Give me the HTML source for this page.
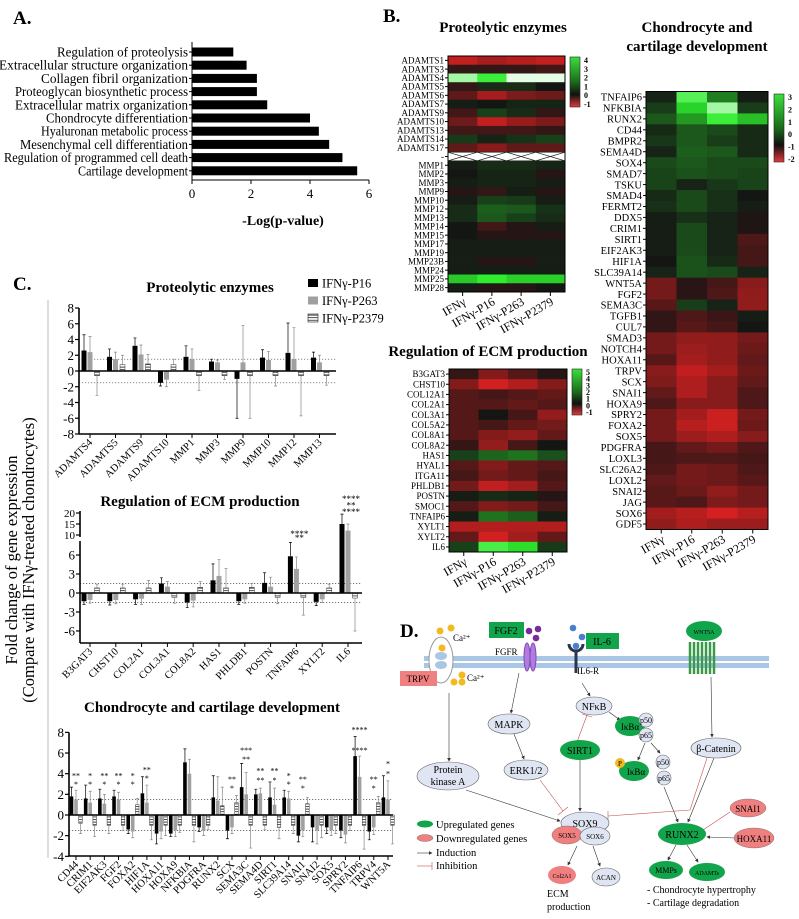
<!DOCTYPE html>
<html><head><meta charset="utf-8">
<style>
html,body{margin:0;padding:0;background:#fff;}
svg{display:block;font-family:"Liberation Serif",serif;}
</style></head>
<body>
<svg id="fig" xmlns="http://www.w3.org/2000/svg" width="799" height="919" viewBox="0 0 799 919">
<defs>
<pattern id="stripe" patternUnits="userSpaceOnUse" width="4" height="2.6"><rect width="4" height="2.6" fill="#fff"/><line x1="0" y1="0.5" x2="4" y2="0.5" stroke="#222" stroke-width="0.8"/></pattern>
<linearGradient id="cbar" x1="0" y1="0" x2="0" y2="1"><stop offset="0" stop-color="#3be03b"/><stop offset="0.5" stop-color="#1b6b1b"/><stop offset="0.75" stop-color="#111"/><stop offset="1" stop-color="#e63a3a"/></linearGradient>
<marker id="arr" markerWidth="6" markerHeight="6" refX="5" refY="3" orient="auto"><path d="M0,0 L6,3 L0,6z" fill="#333"/></marker>
</defs>
<g id="panelA"></g>
<g id="panelB"></g>
<g id="panelC"></g>
<g id="panelD" font-size="11" font-family="Liberation Serif, serif">
  <text x="400" y="637" font-size="19" font-weight="bold">D.</text>
  <rect x="424" y="656" width="345" height="5" fill="#a9c7e4"/>
  <rect x="424" y="663" width="345" height="5" fill="#a9c7e4"/>
  <ellipse cx="441" cy="660" rx="12" ry="23" fill="#fff" stroke="#999"/>
  <ellipse cx="441" cy="656" rx="6" ry="4" fill="#a9c7e4"/>
  <ellipse cx="441" cy="665" rx="6" ry="4" fill="#a9c7e4"/>
  <circle cx="440" cy="631" r="3.5" fill="#f2b920"/>
  <circle cx="451" cy="628" r="3.5" fill="#f2b920"/>
  <circle cx="442" cy="648" r="3.5" fill="#f2b920"/>
  <circle cx="462" cy="675" r="3.5" fill="#f2b920"/>
  <circle cx="454" cy="682" r="3.5" fill="#f2b920"/>
  <circle cx="462" cy="682" r="3.5" fill="#f2b920"/>
  <text x="453" y="641" font-size="9">Ca²⁺</text>
  <text x="467" y="681" font-size="9">Ca²⁺</text>
  <rect x="400" y="671" width="37" height="15" fill="#f08080"/>
  <text x="418" y="682" text-anchor="middle" font-size="9">TRPV</text>
  <rect x="489" y="622" width="35" height="16" fill="#12a44a"/>
  <text x="506" y="634" text-anchor="middle" font-size="10">FGF2</text>
  <circle cx="529" cy="631" r="3.3" fill="#7b2a9b"/><circle cx="538" cy="629" r="3.3" fill="#7b2a9b"/><circle cx="536" cy="638" r="3.3" fill="#7b2a9b"/>
  <ellipse cx="527" cy="657" rx="3" ry="14" fill="#b27be0" stroke="#7d4ab5"/>
  <ellipse cx="533" cy="657" rx="3" ry="14" fill="#b27be0" stroke="#7d4ab5"/>
  <text x="495" y="655" font-size="9">FGFR</text>
  <circle cx="573" cy="628" r="3.3" fill="#4a7fd0"/><circle cx="582" cy="637" r="3.3" fill="#4a7fd0"/><circle cx="576" cy="646" r="3.3" fill="#4a7fd0"/>
  <path d="M569,644 A7,7 0 0 0 583,644" fill="none" stroke="#2b3550" stroke-width="3"/>
  <rect x="574.5" y="650" width="3" height="23" fill="#2b3550"/>
  <rect x="586" y="633" width="33" height="16" fill="#12a44a"/>
  <text x="602" y="645" text-anchor="middle" font-size="10">IL-6</text>
  <text x="577" y="674" font-size="9">IL6-R</text>
  <ellipse cx="704" cy="631" rx="18" ry="10" fill="#12a44a"/>
  <text x="704" y="634" text-anchor="middle" font-size="6">WNT5A</text>
  <path d="M690,642 v32 M694,642 v32 M698,642 v32 M702,642 v32 M706,642 v32 M710,642 v32 M714,642 v32" stroke="#3a9a4a" stroke-width="2.5" fill="none"/>
  <g stroke="#333" stroke-width="0.6" fill="none" marker-end="url(#arr)">
    <line x1="449" y1="693" x2="449" y2="761"/>
    <line x1="519" y1="673" x2="511" y2="713"/>
    <line x1="514" y1="734" x2="524" y2="759"/>
    <line x1="582" y1="683" x2="590" y2="696"/>
    <line x1="609" y1="712" x2="620" y2="720"/>
    <line x1="645" y1="743" x2="638" y2="760"/>
    <line x1="651" y1="743" x2="660" y2="753"/>
    <line x1="664" y1="787" x2="678" y2="822"/>
    <line x1="711" y1="677" x2="712" y2="737"/>
    <line x1="714" y1="758" x2="688" y2="822"/>
    <line x1="466" y1="790" x2="560" y2="821"/>
    <line x1="580" y1="760" x2="580" y2="811"/>
    <line x1="577" y1="846" x2="568" y2="865"/>
    <line x1="593" y1="846" x2="600" y2="866"/>
    <line x1="676" y1="845" x2="668" y2="860"/>
    <line x1="687" y1="845" x2="698" y2="862"/>
    <line x1="735" y1="838" x2="707" y2="837"/>
  </g>
  <g stroke="#c65050" stroke-width="0.6" fill="none">
    <line x1="540" y1="780" x2="563" y2="811"/><line x1="558" y1="815" x2="568" y2="807"/>
    <line x1="577" y1="742" x2="587" y2="715"/><line x1="582" y1="714" x2="592" y2="717"/>
    <path d="M707,758 L690,810 L608,816"/><line x1="608" y1="811" x2="608" y2="821"/>
    <line x1="730" y1="812" x2="703" y2="830"/>
  </g>
  <g font-size="10">
    <ellipse cx="509" cy="724" rx="21" ry="10" fill="#dfe5f2" stroke="#666" stroke-width="0.6"/><text x="509" y="728" text-anchor="middle">MAPK</text>
    <ellipse cx="526" cy="770" rx="22" ry="10" fill="#dfe5f2" stroke="#666" stroke-width="0.6"/><text x="526" y="774" text-anchor="middle">ERK1/2</text>
    <ellipse cx="448" cy="776" rx="31" ry="14" fill="#dfe5f2" stroke="#666" stroke-width="0.6"/><text x="448" y="773" text-anchor="middle">Protein</text><text x="448" y="785" text-anchor="middle">kinase A</text>
    <ellipse cx="594" cy="706" rx="18" ry="9" fill="#dfe5f2" stroke="#666" stroke-width="0.6"/><text x="594" y="710" text-anchor="middle">NFκB</text>
    <ellipse cx="580" cy="750" rx="20" ry="10" fill="#12a44a"/><text x="580" y="754" text-anchor="middle">SIRT1</text>
    <ellipse cx="630" cy="726" rx="15" ry="10" fill="#12a44a"/><text x="630" y="730" text-anchor="middle" font-size="9">IκBα</text>
    <circle cx="646" cy="720" r="7" fill="#dfe5f2" stroke="#666" stroke-width="0.6"/><text x="646" y="723" text-anchor="middle" font-size="8">p50</text>
    <circle cx="646" cy="735" r="7" fill="#dfe5f2" stroke="#666" stroke-width="0.6"/><text x="646" y="738" text-anchor="middle" font-size="8">p65</text>
    <ellipse cx="634" cy="771" rx="15" ry="10" fill="#12a44a"/><text x="636" y="775" text-anchor="middle" font-size="9">IκBα</text>
    <circle cx="620" cy="763" r="5" fill="#f2b920"/><text x="620" y="766" text-anchor="middle" font-size="7">P</text>
    <circle cx="663" cy="762" r="7" fill="#dfe5f2" stroke="#666" stroke-width="0.6"/><text x="663" y="765" text-anchor="middle" font-size="8">p50</text>
    <circle cx="664" cy="778" r="7" fill="#dfe5f2" stroke="#666" stroke-width="0.6"/><text x="664" y="781" text-anchor="middle" font-size="8">p65</text>
    <ellipse cx="716" cy="748" rx="25" ry="10" fill="#dfe5f2" stroke="#666" stroke-width="0.6"/><text x="716" y="752" text-anchor="middle">β-Catenin</text>
    <ellipse cx="585" cy="823" rx="24" ry="11" fill="#dfe5f2" stroke="#666" stroke-width="0.6"/><text x="585" y="827" text-anchor="middle">SOX9</text>
    <ellipse cx="567" cy="835" rx="15" ry="9" fill="#f08080" stroke="#666" stroke-width="0.4"/><text x="567" y="838" text-anchor="middle" font-size="7">SOX5</text>
    <ellipse cx="595" cy="836" rx="15" ry="9" fill="#dfe5f2" stroke="#666" stroke-width="0.6"/><text x="595" y="839" text-anchor="middle" font-size="7">SOX6</text>
    <ellipse cx="562" cy="875" rx="14" ry="9" fill="#f08080"/><text x="562" y="878" text-anchor="middle" font-size="6">Col2A1</text>
    <ellipse cx="606" cy="877" rx="14" ry="9" fill="#dfe5f2" stroke="#666" stroke-width="0.6"/><text x="606" y="880" text-anchor="middle" font-size="7">ACAN</text>
    <ellipse cx="682" cy="834" rx="24" ry="11" fill="#12a44a"/><text x="682" y="838" text-anchor="middle">RUNX2</text>
    <ellipse cx="748" cy="808" rx="18" ry="9" fill="#f08080" stroke="#666" stroke-width="0.4"/><text x="748" y="812" text-anchor="middle" font-size="9">SNAI1</text>
    <ellipse cx="754" cy="838" rx="20" ry="10" fill="#f08080" stroke="#666" stroke-width="0.4"/><text x="754" y="842" text-anchor="middle" font-size="9">HOXA11</text>
    <ellipse cx="666" cy="870" rx="17" ry="9" fill="#12a44a"/><text x="666" y="873" text-anchor="middle" font-size="8">MMPs</text>
    <ellipse cx="707" cy="872" rx="18" ry="9" fill="#12a44a"/><text x="707" y="875" text-anchor="middle" font-size="6">ADAMTs</text>
  </g>
  <text x="547" y="897" font-size="10">ECM</text>
  <text x="547" y="910" font-size="10">production</text>
  <text x="647" y="893" font-size="10">- Chondrocyte hypertrophy</text>
  <text x="647" y="906" font-size="10">- Cartilage degradation</text>
  <g font-size="10.5">
    <ellipse cx="425" cy="824" rx="8" ry="3.5" fill="#12a44a"/><text x="436" y="828">Upregulated genes</text>
    <ellipse cx="425" cy="838" rx="8" ry="3.5" fill="#f08080" stroke="#666" stroke-width="0.4"/><text x="436" y="842">Downregulated genes</text>
    <line x1="417" y1="853" x2="432" y2="853" stroke="#333" stroke-width="0.6" marker-end="url(#arr)"/><text x="436" y="856">Induction</text>
    <line x1="417" y1="866" x2="432" y2="866" stroke="#c65050" stroke-width="0.6"/><line x1="432" y1="862" x2="432" y2="870" stroke="#c65050" stroke-width="0.6"/><text x="436" y="869">Inhibition</text>
  </g>
</g>
</svg>
<script>
// ===== Panel A data =====
const goTerms = ["Regulation of proteolysis","Extracellular structure organization","Collagen fibril organization","Proteoglycan biosynthetic process","Extracellular matrix organization","Chondrocyte differentiation","Hyaluronan metabolic process","Mesenchymal cell differentiation","Regulation of programmed cell death","Cartilage development"];
const goValues = [1.4,1.85,2.2,2.2,2.55,4.0,4.3,4.65,5.1,5.6];
const goTicks = [0,2,4,6];

// ===== Panel B data =====
const hmCols = ["IFNγ","IFNγ-P16","IFNγ-P263","IFNγ-P2379"];
const protGenes = ["ADAMTS1","ADAMTS3","ADAMTS4","ADAMTS5","ADAMTS6","ADAMTS7","ADAMTS9","ADAMTS10","ADAMTS13","ADAMTS14","ADAMTS17","-","MMP1","MMP2","MMP3","MMP9","MMP10","MMP12","MMP13","MMP14","MMP15","MMP17","MMP19","MMP23B","MMP24","MMP25","MMP28"];
const protValues = [[-1.2,-1.0,-1.1,-1.2],[-0.2,-0.2,-0.2,-0.3],[3.9,3.1,4.6,4.6],[-0.2,0.3,0.3,0],[-0.5,-1.0,-0.7,-0.6],[0.1,0,0.2,0.2],[-0.3,0.6,0.3,-0.2],[-0.6,-1.2,-0.9,-0.7],[-0.3,-0.3,-0.3,-0.2],[0.5,0.2,0.4,0.6],[-0.5,-0.8,-0.5,-0.5],null,[0.1,0.3,0.3,0.2],[0,0.2,0.2,-0.1],[0.1,0.2,0.2,0.1],[-0.1,-0.2,0.1,-0.1],[0.1,0.6,0.5,0.1],[0.3,1.0,0.9,0.4],[0.3,0.9,0.6,0.3],[0,-0.3,-0.1,0.1],[0,-0.1,-0.1,-0.1],[0.1,0.1,0.1,0.1],[0.1,0.1,0.1,0.1],[0.1,-0.1,-0.1,0.1],[0.1,0.1,0.1,0.1],[2.5,3.0,2.6,2.6],[0.1,-0.1,-0.1,0]];
const protScale = ["4","3","2","1","0","-1"];
const ecmGenes = ["B3GAT3","CHST10","COL12A1","COL2A1","COL3A1","COL5A2","COL8A1","COL8A2","HAS1","HYAL1","ITGA11","PHLDB1","POSTN","SMOC1","TNFAIP6","XYLT1","XYLT2","IL6"];
const ecmValues = [[-0.2,-0.7,-0.4,-0.1],[-0.7,-1.2,-1.0,-0.7],[-0.4,-0.3,-0.4,-0.5],[-0.4,-0.4,-0.5,-0.4],[-0.4,0,-0.3,-0.8],[-0.4,-0.3,-0.5,-0.6],[-0.4,-0.7,-0.8,-0.5],[-0.2,-0.8,-0.3,0],[0.6,1.1,1.3,0.8],[-0.4,-0.7,-0.5,-0.4],[-0.3,-0.6,-0.5,-0.3],[-0.6,-1.1,-0.9,-0.4],[0.1,0.3,0.2,-0.1],[-0.4,-0.7,-0.6,-0.3],[0.1,1.3,1.0,0.1],[-1.0,-1.0,-1.0,-1.0],[-0.5,-1.2,-0.9,-0.5],[0.6,3.2,2.8,0.5]];
const ecmScale = ["5","4","3","2","1","0","-1"];
const chGenes = ["TNFAIP6","NFKBIA","RUNX2","CD44","BMPR2","SEMA4D","SOX4","SMAD7","TSKU","SMAD4","FERMT2","DDX5","CRIM1","SIRT1","EIF2AK3","HIF1A","SLC39A14","WNT5A","FGF2","SEMA3C","TGFB1","CUL7","SMAD3","NOTCH4","HOXA11","TRPV","SCX","SNAI1","HOXA9","SPRY2","FOXA2","SOX5","PDGFRA","LOXL3","SLC26A2","LOXL2","SNAI2","JAG","SOX6","GDF5"];
const chValues = [[0.2,3.6,1.6,0.1],[0.6,2.9,4.2,0.6],[1.0,2.0,3.4,2.6],[0.3,1.0,0.8,0.3],[0.5,1.0,0.6,0.3],[0.2,1.1,1.0,0.3],[0.8,1.0,0.8,0.8],[0.7,0.9,0.8,0.7],[0.7,0.2,0.5,0.7],[0.3,0.8,0.4,0],[0.4,0.8,0.4,0.1],[0.1,0.4,0.2,-0.1],[0.1,0.8,0.2,-0.1],[0.1,0.8,0.2,-0.6],[0.1,0.8,0.2,-0.5],[0,0.9,0.3,-0.5],[0.2,0.9,0.8,0.2],[-1.0,-0.2,-0.5,-1.2],[-1.0,-0.2,-0.6,-1.3],[-0.7,0.6,0.2,-1.3],[-0.3,-0.6,-0.4,0.1],[-0.3,-0.7,-0.5,0],[-1.0,-1.3,-1.3,-1.0],[-1.0,-1.4,-1.3,-0.9],[-0.7,-1.5,-1.3,-0.8],[-1.2,-1.8,-1.5,-0.9],[-1.1,-1.6,-1.2,-0.8],[-0.8,-1.6,-1.2,-0.6],[-0.6,-1.2,-1.2,-0.6],[-1.0,-1.5,-1.9,-1.0],[-1.0,-1.7,-1.9,-0.9],[-1.0,-1.4,-1.6,-1.2],[-0.5,-0.8,-1.0,-0.6],[-0.5,-0.6,-0.6,-0.5],[-0.6,-1.0,-0.9,-0.6],[-0.8,-1.0,-0.9,-0.7],[-0.7,-0.9,-1.3,-1.0],[-0.7,-0.6,-1.1,-1.0],[-1.5,-1.7,-2.0,-1.7],[-1.3,-1.6,-1.4,-1.4]];
const chScale = ["3","2","1","0","-1","-2"];

// ===== Panel C data =====
const seriesNames = ["IFNγ-P16","IFNγ-P263","IFNγ-P2379"];
const c1Genes = ["ADAMTS4","ADAMTS5","ADAMTS9","ADAMTS10","MMP1","MMP3","MMP9","MMP10","MMP12","MMP13"];
const c1P16 = [2.6,1.8,3.2,-1.5,1.8,1.2,-1.0,1.7,2.3,1.7];
const c1P263 = [2.4,1.5,2.1,-1.1,1.5,1.1,1.1,1.4,1.5,1.1];
const c1P2379 = [-0.6,0.8,0.9,0.8,-0.6,-0.6,-0.6,-0.6,-0.6,-0.6];
const c1Err16 = [2.0,1.0,1.0,0.4,1.4,0.3,5.0,1.0,3.8,0.7];
const c1Err263 = [2.0,0.9,1.2,0.9,1.3,0.3,4.7,1.1,4.0,0.9];
const c1Err2379 = [2.5,1.2,1.2,0.7,1.9,0.5,5.4,1.3,5.1,1.2];
const c1Ticks = [8,6,4,2,0,-2,-4,-6,-8];

const c2Genes = ["B3GAT3","CHST10","COL2A1","COL3A1","COL8A2","HAS1","PHLDB1","POSTN","TNFAIP6","XYLT2","IL6"];
const c2P16 = [-1.3,-1.3,-1.0,1.5,-1.5,2.0,-1.3,1.6,5.8,-1.4,15];
const c2P263 = [-1.1,-1.1,-0.9,1.0,-1.2,2.7,-1.0,1.0,3.8,-1.0,12];
const c2P2379 = [0.8,0.8,0.8,-0.7,0.9,0.8,0.9,-0.7,-0.7,0.8,-0.8];
const c2Err16 = [0.5,0.6,0.8,0.9,0.8,2.6,0.5,1.6,2.2,0.6,4.5];
const c2Err263 = [0.5,0.6,0.9,0.8,1.0,2.6,0.6,1.5,1.9,0.5,3];
const c2Err2379 = [0.6,0.6,1.2,0.9,0.9,3.1,0.6,1.0,2.8,0.6,5.2];
const c2TicksLow = [6,3,0,-3,-6];
const c2TicksHigh = [20,15,10];

const c3Genes = ["CD44","CRIM1","EIF2AK3","FGF2","FOXA2","HIF1A","HOXA11","HOXA9","NFKBIA","PDGFRA","RUNX2","SCX","SEMA3C","SEMA4D","SIRT1","SLC39A14","SNAI1","SNAI2","SOX5","SPRY2","TNFAIP6","TRPV4","WNT5A"];
const c3P16 = [1.8,1.6,1.6,1.8,-1.4,2.1,-1.8,-1.8,5.1,-1.2,1.7,-1.5,2.7,2.0,1.7,1.7,-2.0,-1.2,-1.2,-1.5,5.7,-1.6,1.7];
const c3P263 = [1.5,1.2,1.1,1.5,-1.6,1.2,-1.6,-1.5,4.0,-1.5,1.4,-1.2,2.0,2.1,1.0,1.6,-1.5,-1.5,-1.5,-1.9,3.7,-1.2,1.5];
const c3P2379 = [-0.8,-1.0,-1.0,-1.0,1.0,-1.0,-1.0,-1.0,-1.0,-1.0,0.9,1.2,-1.0,-1.0,-1.2,-1.0,1.1,-1.0,-1.0,-1.0,-1.0,1.2,-1.0];
const c3Err16 = [0.9,1.3,0.9,0.6,0.4,1.6,1.0,0.3,1.3,0.4,2.1,0.8,2.3,0.5,1.5,0.7,0.6,1.4,0.6,0.7,1.9,0.8,2.1];
const c3Err263 = [0.9,1.1,0.9,0.7,0.6,1.7,0.7,0.6,1.4,0.5,2.3,0.6,2.1,0.5,1.6,0.7,0.6,1.3,0.5,0.8,2.0,0.7,1.8];
const c3Err2379 = [1.0,1.1,0.8,0.5,0.6,1.4,1.0,0.7,1.6,0.4,1.8,0.7,2.2,0.4,1.1,0.8,0.6,1.2,0.8,0.5,2.3,0.6,1.8];
const c3Ticks = [8,6,4,2,0,-2,-4];
const c3Sig = [[0,"**",3.8],[0,"*",3.0],[1,"*",3.8],[1,"*",3.0],[2,"**",3.8],[2,"*",3.0],[3,"**",3.8],[3,"*",3.0],[4,"*",3.8],[4,"*",3.0],[5,"**",4.4],[5,"*",3.6],[11,"**",3.5],[11,"*",2.6],[12,"***",6.3],[12,"**",5.4],[13,"**",4.3],[13,"**",3.4],[14,"**",4.3],[14,"*",3.4],[15,"*",3.8],[15,"*",3.0],[16,"**",3.5],[16,"*",2.6],[20,"****",8.3],[20,"****",6.3],[21,"**",3.5],[21,"*",2.6],[22,"*",5.0],[22,"*",4.0]];

const NS = "http://www.w3.org/2000/svg";
function mk(tag, attrs, parent){const e=document.createElementNS(NS,tag);for(const k in attrs)e.setAttribute(k,attrs[k]);parent.appendChild(e);return e;}
function tx(parent,x,y,s,size,anchor,extra){const e=mk("text",Object.assign({x:x,y:y,"font-size":size,"text-anchor":anchor||"start"},extra||{}),parent);e.textContent=s;return e;}

// ---------- Panel A ----------
const gA = document.getElementById("panelA");
let t = tx(gA,13,24,"A.",19,"start",{"font-weight":"bold"});


const ax0 = 192, axScale = 29.5;
function xA(v){return ax0+v*axScale;}
function yA(i){return 52+i*13.2;}
let ln = mk("line",{x1:ax0,y1:42,x2:ax0,y2:180,stroke:"#000","stroke-width":1},gA);


ln = mk("line",{x1:ax0,y1:180,x2:xA(6),y2:180,stroke:"#000","stroke-width":1},gA);


goTerms.forEach((g,i)=>{
  const r = mk("rect",{x:ax0,y:yA(i)-4.5,width:xA(goValues[i])-ax0,height:9,fill:"#000"},gA);
  
  
  const lb = tx(gA,188,yA(i)+4.5,g,13.5,"end",{textLength: (g.length*5.25).toFixed(0), lengthAdjust:"spacingAndGlyphs"});
  
  
  mk("line",{x1:ax0-3,y1:yA(i),x2:ax0,y2:yA(i),stroke:"#000"},gA);
});
goTicks.forEach(v=>{
  mk("line",{x1:xA(v),y1:180,x2:xA(v),y2:184},gA).setAttribute("stroke","#000");
  const l = tx(gA,xA(v),198,String(v),13,"middle");
  
  
});
t = tx(gA,283,225,"-Log(p-value)",14,"middle",{"font-weight":"bold"});



// ---------- Panel B ----------
const gB = document.getElementById("panelB");
t = tx(gB,383,22,"B.",19,"start",{"font-weight":"bold"});


function hcol(v,pm,nm){
  let r,g,b;
  if(v>=0){const tt=Math.min(v/pm,1);r=20+Math.round(25*tt);g=22+Math.round(215*tt);b=r;
    if(v>pm){const w=Math.min((v-pm)/1.4,1)*0.88;r=Math.round(r+(255-r)*w);g=Math.round(g+(255-g)*w);b=Math.round(b+(255-b)*w);}}
  else{const tt=Math.min(-v/nm,1);r=22+Math.round(218*tt);g=20+Math.round(14*tt);b=g;}
  return "rgb("+r+","+g+","+b+")";
}
function heatmap(opts){
  const g = mk("g",{},gB);
  
  
  const tl = tx(g,opts.titleX,opts.titleY,opts.title,15,"middle",{"font-weight":"bold"});
  
  
  if(opts.title2){const t2=tx(g,opts.titleX,opts.titleY+19,opts.title2,15,"middle",{"font-weight":"bold"});
    
    }
  const cw=(opts.x1-opts.x0)/hmCols.length, rh=(opts.y1-opts.y0)/opts.genes.length;
  opts.genes.forEach((gn,i)=>{
    const y=opts.y0+i*rh;
    const row=opts.values[i];
    if(row===null){
      const wr=mk("rect",{x:opts.x0,y:y,width:opts.x1-opts.x0,height:rh,fill:"#fff",stroke:"#222","stroke-width":0.8},g);
      
      
      for(let c=0;c<hmCols.length;c++){
        mk("path",{d:"M"+(opts.x0+c*cw)+","+y+" L"+(opts.x0+(c+1)*cw)+","+(y+rh)+" M"+(opts.x0+c*cw)+","+(y+rh)+" L"+(opts.x0+(c+1)*cw)+","+y,stroke:"#222","stroke-width":0.7},g);
      }
    } else {
      row.forEach((v,c)=>{
        const cell=mk("rect",{x:opts.x0+c*cw,y:y,width:cw+0.4,height:rh+0.4,fill:hcol(v,opts.pm,opts.nm)},g);
        
        
      });
    }
    mk("line",{x1:opts.x0-3,y1:y+rh/2,x2:opts.x0,y2:y+rh/2,stroke:"#000"},g);
    const lb=tx(g,opts.x0-4,y+rh/2+opts.fs*0.35,gn,opts.fs,"end");
    
    
  });
  mk("rect",{x:opts.x0,y:opts.y0,width:opts.x1-opts.x0,height:opts.y1-opts.y0,fill:"none",stroke:"#000","stroke-width":1},g);
  hmCols.forEach((c,i)=>{
    const cx=opts.x0+(i+0.5)*cw;
    mk("line",{x1:cx,y1:opts.y1,x2:cx,y2:opts.y1+4,stroke:"#000"},g);
    const cl=tx(g,cx+4,opts.y1+12,c,12,"end",{transform:"rotate(-30 "+(cx+4)+" "+(opts.y1+12)+")"});
    
    
  });
  const cb=mk("rect",{x:opts.cbX,y:opts.cbY0,width:10,height:opts.cbY1-opts.cbY0,fill:"url(#cbar)",stroke:"#222","stroke-width":0.6},g);
  
  
  opts.scale.forEach((s,i)=>{
    const yy=opts.cbY0+3+i*(opts.cbY1-opts.cbY0-6)/(opts.scale.length-1);
    const sl=tx(g,opts.cbX+14,yy+3,s,8,"start",{"font-weight":"bold"});
    
    
  });
}
heatmap({name:"heatmap-proteolytic-enzymes",title:"Proteolytic enzymes",titleX:503,titleY:32,genes:protGenes,values:protValues,x0:448,x1:565,y0:56,y1:292,fs:9,cbX:570,cbY0:57,cbY1:107,scale:protScale,pm:3,nm:1.5});
heatmap({name:"heatmap-ecm-regulation",title:"Regulation of ECM production",titleX:488,titleY:356,genes:ecmGenes,values:ecmValues,x0:449,x1:567,y0:369,y1:552,fs:9,cbX:572,cbY0:369,cbY1:415,scale:ecmScale,pm:3,nm:1.4});
heatmap({name:"heatmap-chondrocyte-cartilage",title:"Chondrocyte and",title2:"cartilage development",titleX:697,titleY:32,genes:chGenes,values:chValues,x0:646,x1:768,y0:91.5,y1:529.5,fs:10.5,cbX:774,cbY0:94,cbY1:162,scale:chScale,pm:3.3,nm:2.3});

// ---------- Panel C ----------
const gC = document.getElementById("panelC");
t = tx(gC,13,290,"C.",19,"start",{"font-weight":"bold"});


ln = mk("line",{x1:48,y1:300,x2:48,y2:858,stroke:"#bbb","stroke-width":1},gC);


t = tx(gC,17,560,"Fold change of gene expression",16.5,"middle",{transform:"rotate(-90 17 560)"});


t = tx(gC,34,560,"(Compare with IFNγ-treated chondrocytes)",16.5,"middle",{transform:"rotate(-90 34 560)"});


const legFills=["#000","#a0a0a0","url(#stripe)"];
seriesNames.forEach((s,i)=>{
  const yy=283+i*17.5;
  const sw=mk("rect",{x:308,y:yy-4,width:10,height:8,fill:legFills[i],stroke:i==2?"#222":"none","stroke-width":0.6},gC);
  
  
  const lt=tx(gC,322,yy+4.5,s,12.5,"start");
  
  
});
function barChart(o){
  const g=mk("g",{},gC);
  
  
  const tl=tx(g,o.titleX,o.titleY,o.title,15,"middle",{"font-weight":"bold"});
  
  
  const y=o.y;
  [1.5,-1.5].forEach(v=>{const d=mk("line",{x1:o.ax,y1:y(v),x2:o.axR,y2:y(v),stroke:"#444","stroke-width":0.7,"stroke-dasharray":"1.2,1.8"},g);
    
    });
  const series=[o.s1,o.s2,o.s3], errs=[o.e1,o.e2,o.e3];
  const fills=["#000","#a0a0a0","url(#stripe)"], ecol=["#000","#888","#888"];
  o.genes.forEach((gn,i)=>{
    const c=o.c0+i*o.sp;
    series.forEach((s,k)=>{
      const v=s[i], bx=c+o.off[k]-o.bw/2;
      const y0=y(0), yv=y(v);
      const r=mk("rect",{x:bx,y:Math.min(y0,yv),width:o.bw,height:Math.abs(yv-y0),fill:fills[k],stroke:k==2?"#333":"none","stroke-width":0.5},g);
      
      
      const ev=v>=0?v+errs[k][i]:v-errs[k][i];
      const ex=c+o.off[k];
      const eb=mk("path",{d:"M"+ex+","+yv+" L"+ex+","+y(ev)+" M"+(ex-1.5)+","+y(ev)+" L"+(ex+1.5)+","+y(ev),stroke:ecol[k],"stroke-width":0.7,fill:"none"},g);
      
      
    });
    mk("line",{x1:c,y1:o.axB,x2:c,y2:o.axB+4,stroke:"#000"},g);
    const lx=c+3, ly=o.axB+9;
    const lb=tx(g,lx,ly,gn,o.lfs,"end",{transform:"rotate(-45 "+lx+" "+ly+")"});
    
    
  });
  mk("line",{x1:o.ax,y1:y(0),x2:o.axR,y2:y(0),stroke:"#000","stroke-width":1.6},g);
  const xa=mk("line",{x1:o.ax,y1:o.axB,x2:o.axR,y2:o.axB,stroke:"#000","stroke-width":1.6},g);
  
  
  return g;
}
function yTicks(g,ax,ticks,y,fs){
  ticks.forEach(v=>{
    mk("line",{x1:ax-4,y1:y(v),x2:ax,y2:y(v),stroke:"#000","stroke-width":1.2},g);
    const l=tx(g,ax-5,y(v)+fs*0.35,String(v),fs,"end");
    
    
  });
}
const y1=v=>371-v*7.875;
let g1=barChart({name:"chart-proteolytic-enzymes",title:"Proteolytic enzymes",titleX:210,titleY:292,genes:c1Genes,s1:c1P16,s2:c1P263,s3:c1P2379,e1:c1Err16,e2:c1Err263,e3:c1Err2379,y:y1,ax:79,axR:336,axB:434,c0:90,sp:25.5,off:[-6,0,7],bw:5,lfs:10.5});
mk("line",{x1:79,y1:y1(8),x2:79,y2:434,stroke:"#000","stroke-width":1.6},g1);
yTicks(g1,79,c1Ticks,y1,13);
const y2=v=>v<=8.2?593-v*6.33:(v<10?537:535-(v-10)*2.2);
let g2=barChart({name:"chart-ecm-production",title:"Regulation of ECM production",titleX:200,titleY:506,genes:c2Genes,s1:c2P16,s2:c2P263,s3:c2P2379,e1:c2Err16,e2:c2Err263,e3:c2Err2379,y:y2,ax:80,axR:362,axB:643,c0:90,sp:25.8,off:[-6,0,7],bw:5,lfs:10.5});
mk("line",{x1:80,y1:541,x2:80,y2:643,stroke:"#000","stroke-width":1.6},g2);
mk("line",{x1:80,y1:511,x2:80,y2:537,stroke:"#000","stroke-width":1.6},g2);
yTicks(g2,80,c2TicksLow,y2,13);
yTicks(g2,80,c2TicksHigh,y2,11);
const c2Sig=[[8,"****",9.5],[8,"**",8.2],[10,"****",25],[10,"**",22],[10,"****",19]];
c2Sig.forEach(s=>{const l=tx(g2,90+s[0]*25.8+3,y2(s[2]),s[1],9,"middle");
  
  });
const y3=v=>815-v*10.33;
let g3=barChart({name:"chart-chondrocyte-cartilage",title:"Chondrocyte and cartilage development",titleX:212,titleY:712,genes:c3Genes,s1:c3P16,s2:c3P263,s3:c3P2379,e1:c3Err16,e2:c3Err263,e3:c3Err2379,y:y3,ax:69,axR:393,axB:856,c0:76,sp:14.18,off:[-4.5,0,4.5],bw:3.6,lfs:10.5});
mk("line",{x1:69,y1:y3(8),x2:69,y2:856,stroke:"#000","stroke-width":1.6},g3);
yTicks(g3,69,c3Ticks,y3,13);
c3Sig.forEach(s=>{const l=tx(g3,76+s[0]*14.18,y3(s[2])+3,s[1],8,"middle");
  
  });
</script>
</body></html>
